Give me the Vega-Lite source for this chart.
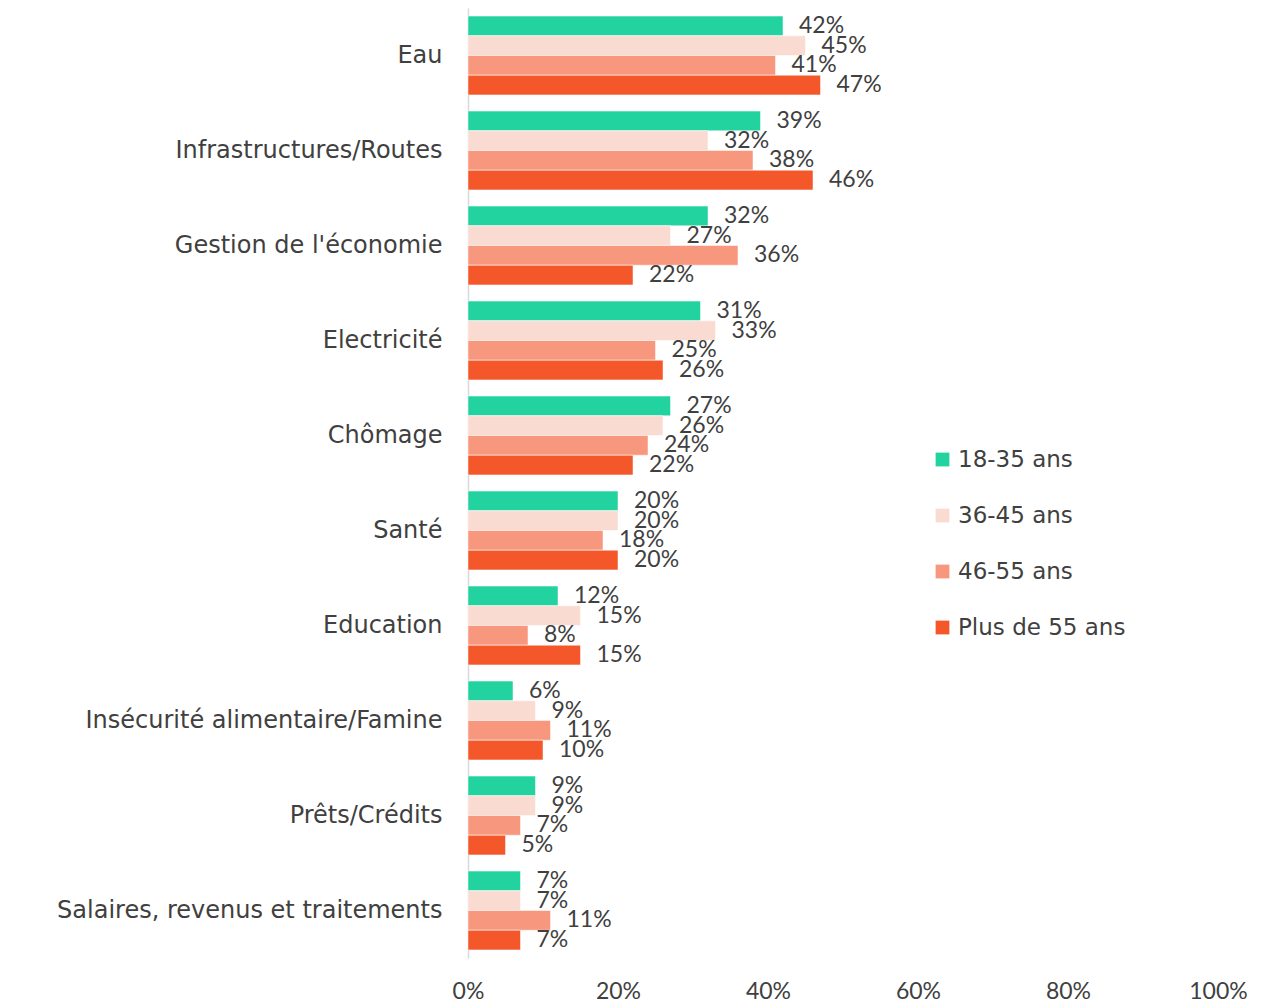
{
  "$schema": "https://vega.github.io/schema/vega-lite/v6.json",
  "width": 750,
  "height": 950,
  "autosize": "none",
  "padding": {"left": 468, "top": 8, "right": 51, "bottom": 45},
  "background": "white",
  "config": {
    "view": {"stroke": null},
    "font": "DejaVu Sans",
    "text": {"font": "Lato"}
  },
  "data": {
    "values": [
      {"cat": "Eau", "grp": "18-35 ans", "v": 0.42},
      {"cat": "Eau", "grp": "36-45 ans", "v": 0.45},
      {"cat": "Eau", "grp": "46-55 ans", "v": 0.41},
      {"cat": "Eau", "grp": "Plus de 55 ans", "v": 0.47},
      {"cat": "Infrastructures/Routes", "grp": "18-35 ans", "v": 0.39},
      {"cat": "Infrastructures/Routes", "grp": "36-45 ans", "v": 0.32},
      {"cat": "Infrastructures/Routes", "grp": "46-55 ans", "v": 0.38},
      {"cat": "Infrastructures/Routes", "grp": "Plus de 55 ans", "v": 0.46},
      {"cat": "Gestion de l'économie", "grp": "18-35 ans", "v": 0.32},
      {"cat": "Gestion de l'économie", "grp": "36-45 ans", "v": 0.27},
      {"cat": "Gestion de l'économie", "grp": "46-55 ans", "v": 0.36},
      {"cat": "Gestion de l'économie", "grp": "Plus de 55 ans", "v": 0.22},
      {"cat": "Electricité", "grp": "18-35 ans", "v": 0.31},
      {"cat": "Electricité", "grp": "36-45 ans", "v": 0.33},
      {"cat": "Electricité", "grp": "46-55 ans", "v": 0.25},
      {"cat": "Electricité", "grp": "Plus de 55 ans", "v": 0.26},
      {"cat": "Chômage", "grp": "18-35 ans", "v": 0.27},
      {"cat": "Chômage", "grp": "36-45 ans", "v": 0.26},
      {"cat": "Chômage", "grp": "46-55 ans", "v": 0.24},
      {"cat": "Chômage", "grp": "Plus de 55 ans", "v": 0.22},
      {"cat": "Santé", "grp": "18-35 ans", "v": 0.20},
      {"cat": "Santé", "grp": "36-45 ans", "v": 0.20},
      {"cat": "Santé", "grp": "46-55 ans", "v": 0.18},
      {"cat": "Santé", "grp": "Plus de 55 ans", "v": 0.20},
      {"cat": "Education", "grp": "18-35 ans", "v": 0.12},
      {"cat": "Education", "grp": "36-45 ans", "v": 0.15},
      {"cat": "Education", "grp": "46-55 ans", "v": 0.08},
      {"cat": "Education", "grp": "Plus de 55 ans", "v": 0.15},
      {"cat": "Insécurité alimentaire/Famine", "grp": "18-35 ans", "v": 0.06},
      {"cat": "Insécurité alimentaire/Famine", "grp": "36-45 ans", "v": 0.09},
      {"cat": "Insécurité alimentaire/Famine", "grp": "46-55 ans", "v": 0.11},
      {"cat": "Insécurité alimentaire/Famine", "grp": "Plus de 55 ans", "v": 0.10},
      {"cat": "Prêts/Crédits", "grp": "18-35 ans", "v": 0.09},
      {"cat": "Prêts/Crédits", "grp": "36-45 ans", "v": 0.09},
      {"cat": "Prêts/Crédits", "grp": "46-55 ans", "v": 0.07},
      {"cat": "Prêts/Crédits", "grp": "Plus de 55 ans", "v": 0.05},
      {"cat": "Salaires, revenus et traitements", "grp": "18-35 ans", "v": 0.07},
      {"cat": "Salaires, revenus et traitements", "grp": "36-45 ans", "v": 0.07},
      {"cat": "Salaires, revenus et traitements", "grp": "46-55 ans", "v": 0.11},
      {"cat": "Salaires, revenus et traitements", "grp": "Plus de 55 ans", "v": 0.07}
    ]
  },
  "encoding": {
    "y": {
      "field": "cat",
      "type": "nominal",
      "sort": null,
      "title": null,
      "scale": {"paddingInner": 0.17, "paddingOuter": 0.085},
      "axis": {
        "ticks": false,
        "domainColor": "#d9d9d9",
        "domainWidth": 1.5,
        "labelFont": "DejaVu Sans",
        "labelFontSize": 24,
        "labelColor": "#404040",
        "labelPadding": 26,
        "labelLimit": 500
      }
    },
    "yOffset": {
      "field": "grp",
      "type": "nominal",
      "sort": ["18-35 ans", "36-45 ans", "46-55 ans", "Plus de 55 ans"],
      "scale": {"paddingInner": 0}
    },
    "x": {
      "field": "v",
      "type": "quantitative",
      "title": null,
      "scale": {"domain": [0, 1], "nice": false},
      "axis": {
        "format": ".0%",
        "values": [0, 0.2, 0.4, 0.6, 0.8, 1],
        "grid": false,
        "ticks": false,
        "domain": false,
        "labelFont": "Lato",
        "labelFontSize": 23,
        "labelColor": "#404040",
        "labelPadding": 22,
        "labelFlush": false
      }
    }
  },
  "layer": [
    {
      "mark": {"type": "bar", "stroke": "white", "strokeWidth": 0.5},
      "encoding": {
        "color": {
          "field": "grp",
          "type": "nominal",
          "sort": ["18-35 ans", "36-45 ans", "46-55 ans", "Plus de 55 ans"],
          "scale": {
            "domain": ["18-35 ans", "36-45 ans", "46-55 ans", "Plus de 55 ans"],
            "range": ["#22D3A0", "#FADBD2", "#F7977D", "#F4572A"]
          },
          "legend": {
            "title": null,
            "orient": "none",
            "legendX": 463,
            "legendY": 440,
            "symbolType": "square",
            "symbolSize": 190,
            "symbolStrokeWidth": 0,
            "labelFont": "DejaVu Sans",
            "labelFontSize": 23,
            "labelColor": "#404040",
            "labelOffset": 4,
            "labelLimit": 300,
            "rowPadding": 32
          }
        }
      }
    },
    {
      "mark": {"type": "text", "align": "left", "baseline": "middle", "dx": 16, "fontSize": 23, "color": "#404040"},
      "encoding": {
        "text": {"field": "v", "type": "quantitative", "format": ".0%"}
      }
    }
  ]
}
